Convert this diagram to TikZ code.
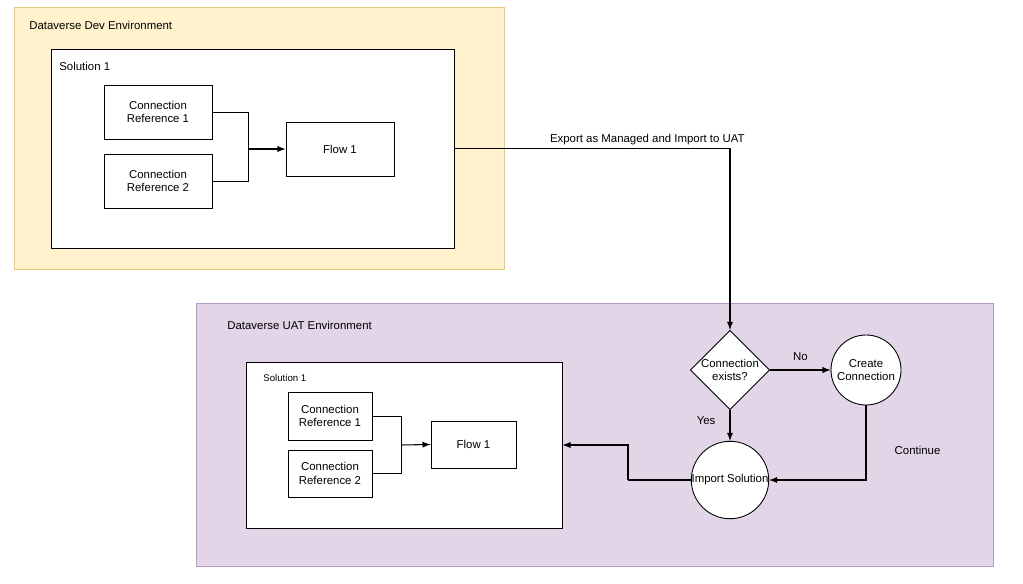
\documentclass[tikz,border=0pt]{standalone}
\usepackage{fontspec}
\setmainfont{Liberation Sans}
\usetikzlibrary{shapes.geometric}
\definecolor{devfill}{HTML}{FFF2CC}
\definecolor{devline}{HTML}{E8C97A}
\definecolor{uatfill}{HTML}{E1D5E7}
\definecolor{uatline}{HTML}{B39BC4}
\tikzset{
  txt/.style={font=\fontsize{6.5}{7.5}\selectfont, align=center, inner sep=0pt},
  box/.style={draw, fill=white, line width=0.5pt},
  link/.style={draw, line width=0.6pt, -latex},
}
\begin{document}
\begin{tikzpicture}[x=0.02cm,y=-0.02cm]
\useasboundingbox (0,0) rectangle (1023,584);
% dev environment
\draw[devline, fill=devfill] (14,7) rectangle (504,269);
\node[txt, anchor=west] (devlbl) at (29,25) {Dataverse Dev Environment};
\node[box, minimum width=403*0.02cm, minimum height=199*0.02cm] (devsol) at (252.5,148.5) {};
\node[txt, anchor=west] (devsollbl) at (59,66) {Solution 1};
\node[box, txt, minimum width=108*0.02cm, minimum height=54*0.02cm] (devcr1) at (158,112) {Connection\\Reference 1};
\node[box, txt, minimum width=108*0.02cm, minimum height=54*0.02cm] (devcr2) at (158,181) {Connection\\Reference 2};
\node[box, txt, minimum width=108*0.02cm, minimum height=54*0.02cm] (devflow) at (340,149) {Flow 1};
\coordinate (devj) at (248,149);
\draw[line width=0.5pt] (devcr1.east) -| (devj);
\draw[line width=0.5pt] (devcr2.east) -| (devj);
\draw[link] (devj) -- (devflow.west);
% uat environment
\draw[uatline, fill=uatfill] (196,303) rectangle (993,566);
\node[txt, anchor=west] (uatlbl) at (227,325) {Dataverse UAT Environment};
\node[box, minimum width=316*0.02cm, minimum height=166*0.02cm] (uatsol) at (404,445) {};
\node[txt, anchor=west, font=\fontsize{5.5}{6.5}\selectfont] (uatsollbl) at (263,378) {Solution 1};
\node[box, txt, minimum width=84*0.02cm, minimum height=48*0.02cm] (uatcr1) at (330,416) {Connection\\Reference 1};
\node[box, txt, minimum width=84*0.02cm, minimum height=47*0.02cm] (uatcr2) at (330,473.5) {Connection\\Reference 2};
\node[box, txt, minimum width=85*0.02cm, minimum height=47*0.02cm] (uatflow) at (473.5,444.5) {Flow 1};
\coordinate (uatj) at (401,445);
\draw[line width=0.5pt] (uatcr1.east) -| (uatj);
\draw[line width=0.5pt] (uatcr2.east) -| (uatj);
\draw[link] (uatj) -- (uatflow.west);
% decision flow
\node[box, txt, diamond, minimum width=72*0.02cm, minimum height=72*0.02cm, inner sep=0pt] (exists) at (730,370) {Connection\\exists?};
\node[box, txt, circle, minimum size=70*0.02cm] (create) at (866,370) {Create\\Connection};
\node[box, txt, circle, minimum size=72*0.02cm] (import) at (730,480) {Import Solution};
\draw[link] (devsol.east) -| node[txt, pos=0.35, above=2pt] {Export as Managed and Import to UAT} (exists.north);
\draw[link] (exists.east) -- node[txt, above=5pt] {No} (create.west);
\draw[link] (exists.south) -- node[txt, pos=0.35, left=8pt] {Yes} (import.north);
\draw[link] (create.south) |- node[txt, pos=0.3, right=16pt] {Continue} (import.east);
\coordinate (bend) at (628,480);
\draw[line width=0.6pt] (import.west) -- (bend);
\draw[link] (bend) |- (uatsol.east);
\end{tikzpicture}
\end{document}
